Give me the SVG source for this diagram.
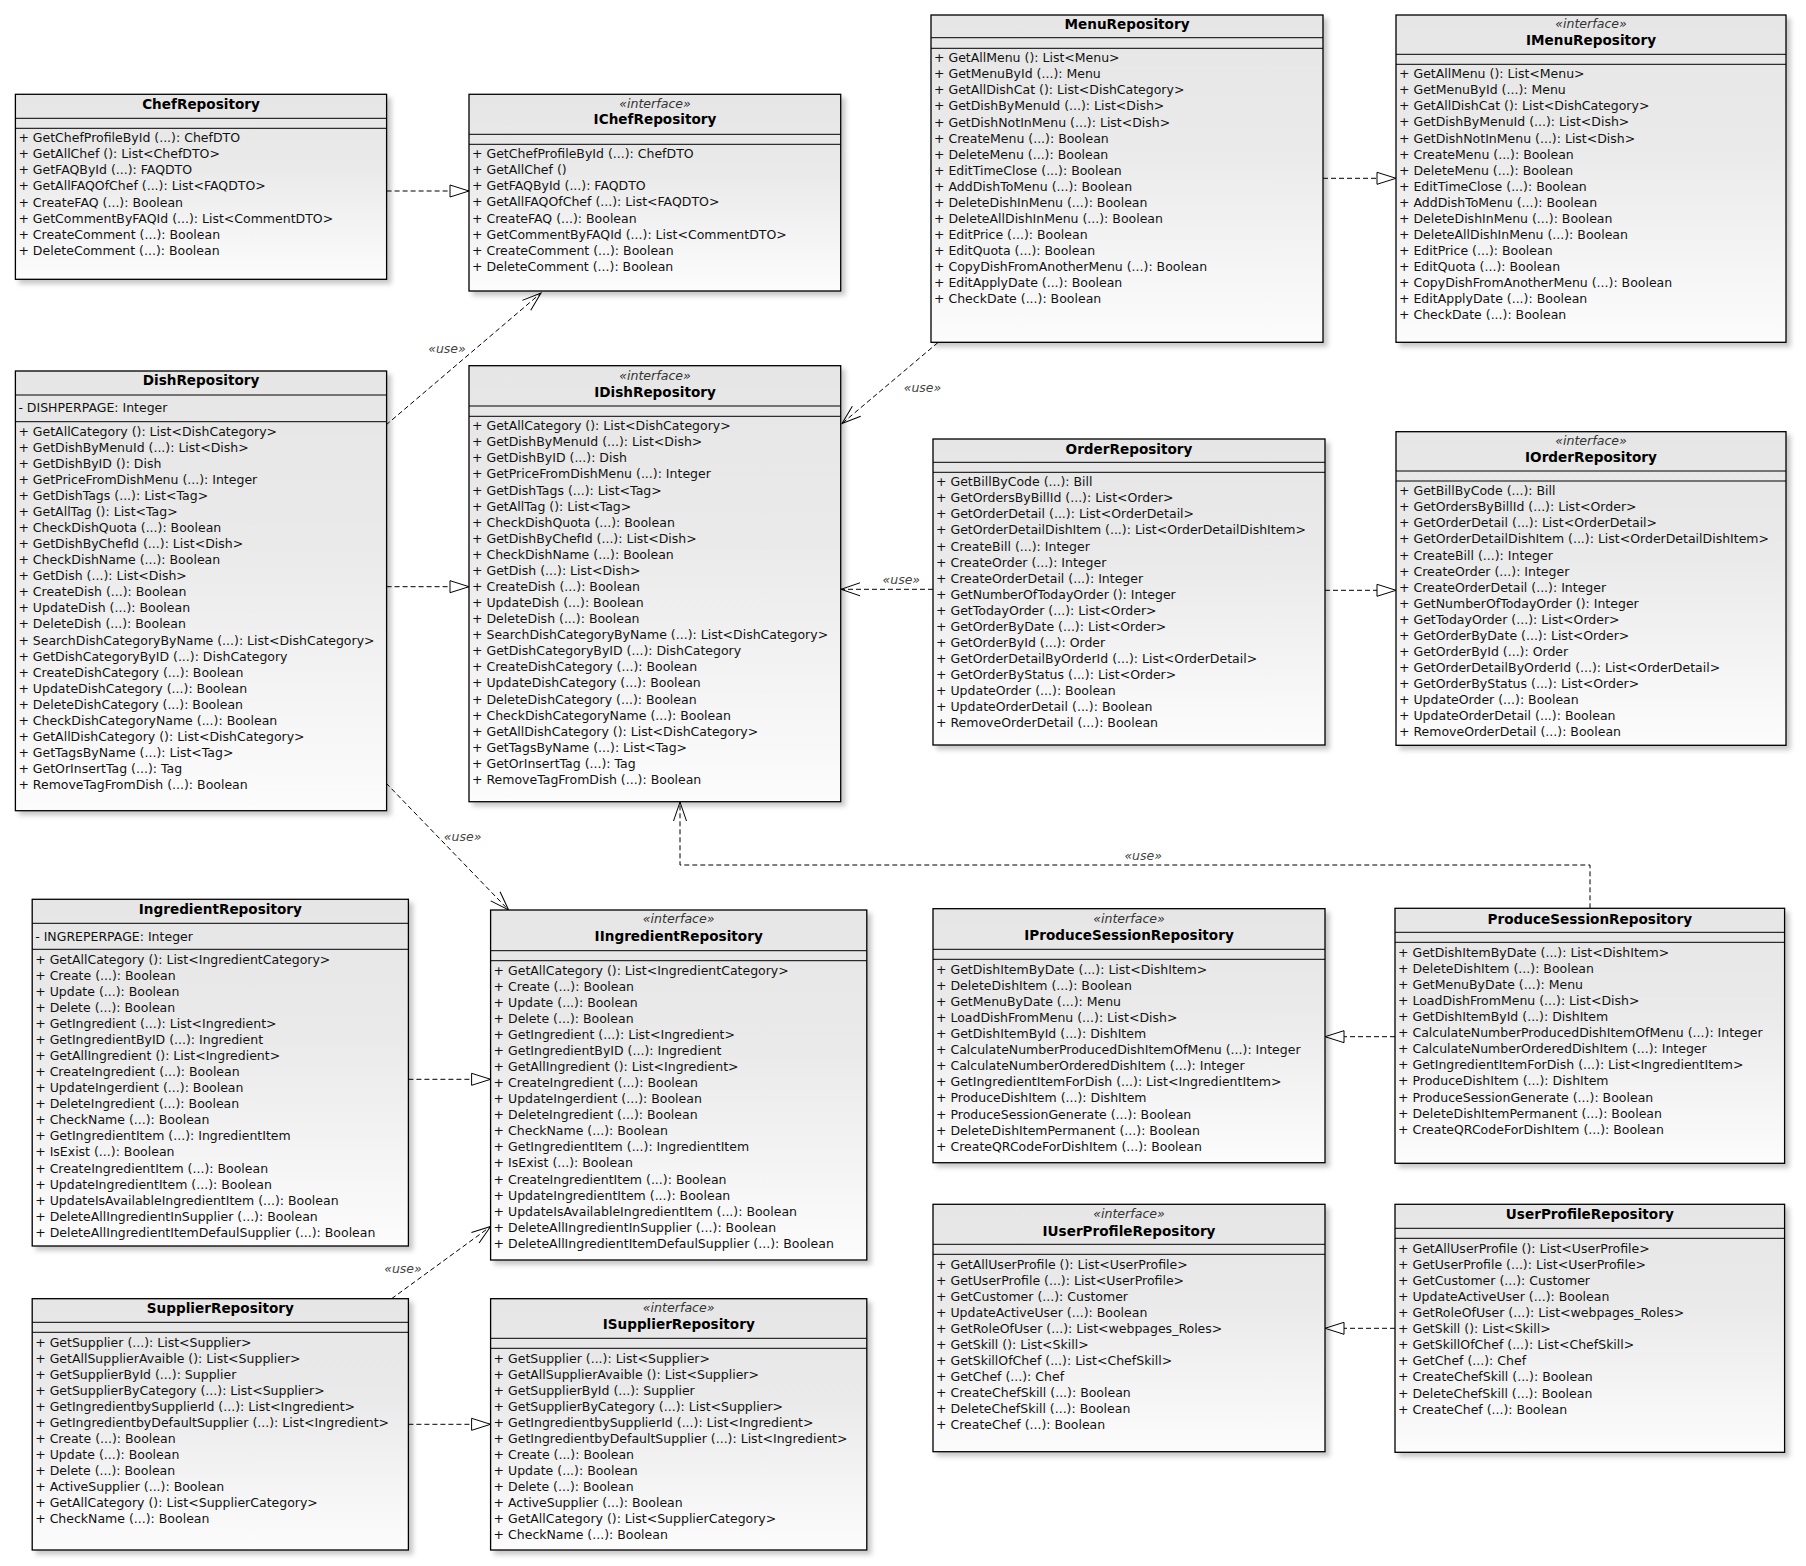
<svg xmlns="http://www.w3.org/2000/svg" width="1806" height="1566" viewBox="0 0 1806 1566">
<style>
.box{fill:url(#bodyG);stroke:#000;stroke-width:1.3;filter:url(#sh)}
.dv{stroke:#000;stroke-width:1;fill:none}
.title{font-family:"DejaVu Sans",Verdana,sans-serif;font-weight:bold;font-size:13.6px;text-anchor:middle;fill:#000}
.stereo{font-family:"DejaVu Sans",Verdana,sans-serif;font-style:italic;font-size:12.6px;text-anchor:middle;fill:#333}
.m{font-family:"DejaVu Sans",Verdana,sans-serif;font-size:12.5px;fill:#111}
.real{fill:none;stroke:#000;stroke-width:1;stroke-dasharray:5 3;marker-end:url(#tri)}
.use{fill:none;stroke:#000;stroke-width:1;stroke-dasharray:5 3;marker-end:url(#open)}
.lbl{font-family:"DejaVu Sans",Verdana,sans-serif;font-style:italic;font-size:12.5px;fill:#444;text-anchor:middle}
</style>
<defs>
<linearGradient id="bodyG" x1="0" y1="0" x2="0" y2="1">
<stop offset="0" stop-color="#e6e6e6"/>
<stop offset="0.4" stop-color="#eaeaea"/>
<stop offset="1" stop-color="#fcfcfc"/>
</linearGradient>
<filter id="sh" x="-5%" y="-5%" width="115%" height="115%">
<feDropShadow dx="4" dy="4" stdDeviation="2.5" flood-color="#000" flood-opacity="0.22"/>
</filter>
<marker id="tri" markerUnits="userSpaceOnUse" markerWidth="20" markerHeight="13" refX="19" refY="6" orient="auto" overflow="visible">
<path d="M0,0 L19,6 L0,12 Z" fill="#fff" stroke="#000" stroke-width="1"/>
</marker>
<marker id="open" markerUnits="userSpaceOnUse" markerWidth="20" markerHeight="14" refX="19" refY="6.5" orient="auto" overflow="visible">
<path d="M0,0 L19,6.5 L0,13" fill="none" stroke="#000" stroke-width="1"/>
</marker>
</defs>
<rect width="1806" height="1566" fill="#fff"/>

<g id="connectors">
<path class="real" d="M386.6,191 L469,191"/>
<path class="real" d="M386.6,586.7 L469,586.7"/>
<path class="real" d="M1323,178.3 L1396,178.3"/>
<path class="real" d="M1325,590.3 L1396,590.3"/>
<path class="real" d="M408.4,1079.3 L490.6,1079.3"/>
<path class="real" d="M408.4,1424.3 L490.6,1424.3"/>
<path class="real" d="M1395,1036.7 L1325,1036.7"/>
<path class="real" d="M1395,1328.3 L1325,1328.3"/>
<path class="use" d="M386,425 L541,293"/>
<path class="use" d="M938,342.5 L842,423.5"/>
<path class="use" d="M933,589.3 L841,589.3"/>
<path class="use" d="M386,783 L508.6,910"/>
<path class="use" d="M1590,908.3 L1590,865 L680,865 L680,802"/>
<path class="use" d="M391.6,1298.7 L490.6,1226.5"/>
<text class="lbl" x="447" y="352.8">«use»</text>
<text class="lbl" x="922.5" y="392.2">«use»</text>
<text class="lbl" x="901.3" y="583.8">«use»</text>
<text class="lbl" x="462.6" y="840.5">«use»</text>
<text class="lbl" x="1143.2" y="859.5">«use»</text>
<text class="lbl" x="403" y="1272.8">«use»</text>
</g>

<g id="ChefRepository">
<rect class="box" x="15.4" y="94.3" width="371.2" height="185"/>
<path class="dv" d="M15.4,118.3H386.6M15.4,128.3H386.6"/>
<text class="title" x="201" y="108.8">ChefRepository</text>
<text class="m" x="18.4" y="142.2"><tspan x="18.4" dy="0">+ GetChefProfileById (...): ChefDTO</tspan><tspan x="18.4" dy="16.08">+ GetAllChef (): List&lt;ChefDTO&gt;</tspan><tspan x="18.4" dy="16.08">+ GetFAQById (...): FAQDTO</tspan><tspan x="18.4" dy="16.08">+ GetAllFAQOfChef (...): List&lt;FAQDTO&gt;</tspan><tspan x="18.4" dy="16.08">+ CreateFAQ (...): Boolean</tspan><tspan x="18.4" dy="16.08">+ GetCommentByFAQId (...): List&lt;CommentDTO&gt;</tspan><tspan x="18.4" dy="16.08">+ CreateComment (...): Boolean</tspan><tspan x="18.4" dy="16.08">+ DeleteComment (...): Boolean</tspan></text>
</g>

<g id="IChefRepository">
<rect class="box" x="469" y="94.3" width="371.7" height="196.7"/>
<path class="dv" d="M469,134.3H840.7M469,144.3H840.7"/>
<text class="stereo" x="655" y="108">«interface»</text>
<text class="title" x="655" y="124.2">IChefRepository</text>
<text class="m" x="472" y="158.2"><tspan x="472" dy="0">+ GetChefProfileById (...): ChefDTO</tspan><tspan x="472" dy="16.08">+ GetAllChef ()</tspan><tspan x="472" dy="16.08">+ GetFAQById (...): FAQDTO</tspan><tspan x="472" dy="16.08">+ GetAllFAQOfChef (...): List&lt;FAQDTO&gt;</tspan><tspan x="472" dy="16.08">+ CreateFAQ (...): Boolean</tspan><tspan x="472" dy="16.08">+ GetCommentByFAQId (...): List&lt;CommentDTO&gt;</tspan><tspan x="472" dy="16.08">+ CreateComment (...): Boolean</tspan><tspan x="472" dy="16.08">+ DeleteComment (...): Boolean</tspan></text>
</g>

<g id="DishRepository">
<rect class="box" x="15.4" y="371" width="371.2" height="439.7"/>
<path class="dv" d="M15.4,395H386.6M15.4,421.7H386.6"/>
<text class="title" x="201" y="385.3">DishRepository</text>
<text class="m" x="18.4" y="412.2">- DISHPERPAGE: Integer</text>
<text class="m" x="18.4" y="435.5"><tspan x="18.4" dy="0">+ GetAllCategory (): List&lt;DishCategory&gt;</tspan><tspan x="18.4" dy="16.08">+ GetDishByMenuId (...): List&lt;Dish&gt;</tspan><tspan x="18.4" dy="16.08">+ GetDishByID (): Dish</tspan><tspan x="18.4" dy="16.08">+ GetPriceFromDishMenu (...): Integer</tspan><tspan x="18.4" dy="16.08">+ GetDishTags (...): List&lt;Tag&gt;</tspan><tspan x="18.4" dy="16.08">+ GetAllTag (): List&lt;Tag&gt;</tspan><tspan x="18.4" dy="16.08">+ CheckDishQuota (...): Boolean</tspan><tspan x="18.4" dy="16.08">+ GetDishByChefId (...): List&lt;Dish&gt;</tspan><tspan x="18.4" dy="16.08">+ CheckDishName (...): Boolean</tspan><tspan x="18.4" dy="16.08">+ GetDish (...): List&lt;Dish&gt;</tspan><tspan x="18.4" dy="16.08">+ CreateDish (...): Boolean</tspan><tspan x="18.4" dy="16.08">+ UpdateDish (...): Boolean</tspan><tspan x="18.4" dy="16.08">+ DeleteDish (...): Boolean</tspan><tspan x="18.4" dy="16.08">+ SearchDishCategoryByName (...): List&lt;DishCategory&gt;</tspan><tspan x="18.4" dy="16.08">+ GetDishCategoryByID (...): DishCategory</tspan><tspan x="18.4" dy="16.08">+ CreateDishCategory (...): Boolean</tspan><tspan x="18.4" dy="16.08">+ UpdateDishCategory (...): Boolean</tspan><tspan x="18.4" dy="16.08">+ DeleteDishCategory (...): Boolean</tspan><tspan x="18.4" dy="16.08">+ CheckDishCategoryName (...): Boolean</tspan><tspan x="18.4" dy="16.08">+ GetAllDishCategory (): List&lt;DishCategory&gt;</tspan><tspan x="18.4" dy="16.08">+ GetTagsByName (...): List&lt;Tag&gt;</tspan><tspan x="18.4" dy="16.08">+ GetOrInsertTag (...): Tag</tspan><tspan x="18.4" dy="16.08">+ RemoveTagFromDish (...): Boolean</tspan></text>
</g>

<g id="IDishRepository">
<rect class="box" x="469" y="365.7" width="371.7" height="436"/>
<path class="dv" d="M469,406H840.7M469,416.3H840.7"/>
<text class="stereo" x="655" y="380.2">«interface»</text>
<text class="title" x="655" y="396.5">IDishRepository</text>
<text class="m" x="472" y="430.2"><tspan x="472" dy="0">+ GetAllCategory (): List&lt;DishCategory&gt;</tspan><tspan x="472" dy="16.08">+ GetDishByMenuId (...): List&lt;Dish&gt;</tspan><tspan x="472" dy="16.08">+ GetDishByID (...): Dish</tspan><tspan x="472" dy="16.08">+ GetPriceFromDishMenu (...): Integer</tspan><tspan x="472" dy="16.08">+ GetDishTags (...): List&lt;Tag&gt;</tspan><tspan x="472" dy="16.08">+ GetAllTag (): List&lt;Tag&gt;</tspan><tspan x="472" dy="16.08">+ CheckDishQuota (...): Boolean</tspan><tspan x="472" dy="16.08">+ GetDishByChefId (...): List&lt;Dish&gt;</tspan><tspan x="472" dy="16.08">+ CheckDishName (...): Boolean</tspan><tspan x="472" dy="16.08">+ GetDish (...): List&lt;Dish&gt;</tspan><tspan x="472" dy="16.08">+ CreateDish (...): Boolean</tspan><tspan x="472" dy="16.08">+ UpdateDish (...): Boolean</tspan><tspan x="472" dy="16.08">+ DeleteDish (...): Boolean</tspan><tspan x="472" dy="16.08">+ SearchDishCategoryByName (...): List&lt;DishCategory&gt;</tspan><tspan x="472" dy="16.08">+ GetDishCategoryByID (...): DishCategory</tspan><tspan x="472" dy="16.08">+ CreateDishCategory (...): Boolean</tspan><tspan x="472" dy="16.08">+ UpdateDishCategory (...): Boolean</tspan><tspan x="472" dy="16.08">+ DeleteDishCategory (...): Boolean</tspan><tspan x="472" dy="16.08">+ CheckDishCategoryName (...): Boolean</tspan><tspan x="472" dy="16.08">+ GetAllDishCategory (): List&lt;DishCategory&gt;</tspan><tspan x="472" dy="16.08">+ GetTagsByName (...): List&lt;Tag&gt;</tspan><tspan x="472" dy="16.08">+ GetOrInsertTag (...): Tag</tspan><tspan x="472" dy="16.08">+ RemoveTagFromDish (...): Boolean</tspan></text>
</g>

<g id="MenuRepository">
<rect class="box" x="931" y="15" width="392" height="327.3"/>
<path class="dv" d="M931,37.7H1323M931,48.3H1323"/>
<text class="title" x="1127" y="28.8">MenuRepository</text>
<text class="m" x="934" y="62.2"><tspan x="934" dy="0">+ GetAllMenu (): List&lt;Menu&gt;</tspan><tspan x="934" dy="16.08">+ GetMenuById (...): Menu</tspan><tspan x="934" dy="16.08">+ GetAllDishCat (): List&lt;DishCategory&gt;</tspan><tspan x="934" dy="16.08">+ GetDishByMenuId (...): List&lt;Dish&gt;</tspan><tspan x="934" dy="16.08">+ GetDishNotInMenu (...): List&lt;Dish&gt;</tspan><tspan x="934" dy="16.08">+ CreateMenu (...): Boolean</tspan><tspan x="934" dy="16.08">+ DeleteMenu (...): Boolean</tspan><tspan x="934" dy="16.08">+ EditTimeClose (...): Boolean</tspan><tspan x="934" dy="16.08">+ AddDishToMenu (...): Boolean</tspan><tspan x="934" dy="16.08">+ DeleteDishInMenu (...): Boolean</tspan><tspan x="934" dy="16.08">+ DeleteAllDishInMenu (...): Boolean</tspan><tspan x="934" dy="16.08">+ EditPrice (...): Boolean</tspan><tspan x="934" dy="16.08">+ EditQuota (...): Boolean</tspan><tspan x="934" dy="16.08">+ CopyDishFromAnotherMenu (...): Boolean</tspan><tspan x="934" dy="16.08">+ EditApplyDate (...): Boolean</tspan><tspan x="934" dy="16.08">+ CheckDate (...): Boolean</tspan></text>
</g>

<g id="IMenuRepository">
<rect class="box" x="1396" y="15" width="390" height="327.3"/>
<path class="dv" d="M1396,54.3H1786M1396,64.3H1786"/>
<text class="stereo" x="1591" y="27.8">«interface»</text>
<text class="title" x="1591" y="44.8">IMenuRepository</text>
<text class="m" x="1399" y="78.2"><tspan x="1399" dy="0">+ GetAllMenu (): List&lt;Menu&gt;</tspan><tspan x="1399" dy="16.08">+ GetMenuById (...): Menu</tspan><tspan x="1399" dy="16.08">+ GetAllDishCat (): List&lt;DishCategory&gt;</tspan><tspan x="1399" dy="16.08">+ GetDishByMenuId (...): List&lt;Dish&gt;</tspan><tspan x="1399" dy="16.08">+ GetDishNotInMenu (...): List&lt;Dish&gt;</tspan><tspan x="1399" dy="16.08">+ CreateMenu (...): Boolean</tspan><tspan x="1399" dy="16.08">+ DeleteMenu (...): Boolean</tspan><tspan x="1399" dy="16.08">+ EditTimeClose (...): Boolean</tspan><tspan x="1399" dy="16.08">+ AddDishToMenu (...): Boolean</tspan><tspan x="1399" dy="16.08">+ DeleteDishInMenu (...): Boolean</tspan><tspan x="1399" dy="16.08">+ DeleteAllDishInMenu (...): Boolean</tspan><tspan x="1399" dy="16.08">+ EditPrice (...): Boolean</tspan><tspan x="1399" dy="16.08">+ EditQuota (...): Boolean</tspan><tspan x="1399" dy="16.08">+ CopyDishFromAnotherMenu (...): Boolean</tspan><tspan x="1399" dy="16.08">+ EditApplyDate (...): Boolean</tspan><tspan x="1399" dy="16.08">+ CheckDate (...): Boolean</tspan></text>
</g>

<g id="OrderRepository">
<rect class="box" x="933" y="439" width="392" height="306"/>
<path class="dv" d="M933,462.3H1325M933,472.3H1325"/>
<text class="title" x="1129" y="453.8">OrderRepository</text>
<text class="m" x="936" y="486.2"><tspan x="936" dy="0">+ GetBillByCode (...): Bill</tspan><tspan x="936" dy="16.08">+ GetOrdersByBillId (...): List&lt;Order&gt;</tspan><tspan x="936" dy="16.08">+ GetOrderDetail (...): List&lt;OrderDetail&gt;</tspan><tspan x="936" dy="16.08">+ GetOrderDetailDishItem (...): List&lt;OrderDetailDishItem&gt;</tspan><tspan x="936" dy="16.08">+ CreateBill (...): Integer</tspan><tspan x="936" dy="16.08">+ CreateOrder (...): Integer</tspan><tspan x="936" dy="16.08">+ CreateOrderDetail (...): Integer</tspan><tspan x="936" dy="16.08">+ GetNumberOfTodayOrder (): Integer</tspan><tspan x="936" dy="16.08">+ GetTodayOrder (...): List&lt;Order&gt;</tspan><tspan x="936" dy="16.08">+ GetOrderByDate (...): List&lt;Order&gt;</tspan><tspan x="936" dy="16.08">+ GetOrderById (...): Order</tspan><tspan x="936" dy="16.08">+ GetOrderDetailByOrderId (...): List&lt;OrderDetail&gt;</tspan><tspan x="936" dy="16.08">+ GetOrderByStatus (...): List&lt;Order&gt;</tspan><tspan x="936" dy="16.08">+ UpdateOrder (...): Boolean</tspan><tspan x="936" dy="16.08">+ UpdateOrderDetail (...): Boolean</tspan><tspan x="936" dy="16.08">+ RemoveOrderDetail (...): Boolean</tspan></text>
</g>

<g id="IOrderRepository">
<rect class="box" x="1396" y="431.7" width="390" height="313.6"/>
<path class="dv" d="M1396,471H1786M1396,481H1786"/>
<text class="stereo" x="1591" y="444.5">«interface»</text>
<text class="title" x="1591" y="461.5">IOrderRepository</text>
<text class="m" x="1399" y="495.2"><tspan x="1399" dy="0">+ GetBillByCode (...): Bill</tspan><tspan x="1399" dy="16.08">+ GetOrdersByBillId (...): List&lt;Order&gt;</tspan><tspan x="1399" dy="16.08">+ GetOrderDetail (...): List&lt;OrderDetail&gt;</tspan><tspan x="1399" dy="16.08">+ GetOrderDetailDishItem (...): List&lt;OrderDetailDishItem&gt;</tspan><tspan x="1399" dy="16.08">+ CreateBill (...): Integer</tspan><tspan x="1399" dy="16.08">+ CreateOrder (...): Integer</tspan><tspan x="1399" dy="16.08">+ CreateOrderDetail (...): Integer</tspan><tspan x="1399" dy="16.08">+ GetNumberOfTodayOrder (): Integer</tspan><tspan x="1399" dy="16.08">+ GetTodayOrder (...): List&lt;Order&gt;</tspan><tspan x="1399" dy="16.08">+ GetOrderByDate (...): List&lt;Order&gt;</tspan><tspan x="1399" dy="16.08">+ GetOrderById (...): Order</tspan><tspan x="1399" dy="16.08">+ GetOrderDetailByOrderId (...): List&lt;OrderDetail&gt;</tspan><tspan x="1399" dy="16.08">+ GetOrderByStatus (...): List&lt;Order&gt;</tspan><tspan x="1399" dy="16.08">+ UpdateOrder (...): Boolean</tspan><tspan x="1399" dy="16.08">+ UpdateOrderDetail (...): Boolean</tspan><tspan x="1399" dy="16.08">+ RemoveOrderDetail (...): Boolean</tspan></text>
</g>

<g id="IngredientRepository">
<rect class="box" x="32.2" y="899.3" width="376.2" height="346.7"/>
<path class="dv" d="M32.2,923.3H408.4M32.2,949.3H408.4"/>
<text class="title" x="220.3" y="913.5">IngredientRepository</text>
<text class="m" x="35.2" y="940.5">- INGREPERPAGE: Integer</text>
<text class="m" x="35.2" y="963.5"><tspan x="35.2" dy="0">+ GetAllCategory (): List&lt;IngredientCategory&gt;</tspan><tspan x="35.2" dy="16.08">+ Create (...): Boolean</tspan><tspan x="35.2" dy="16.08">+ Update (...): Boolean</tspan><tspan x="35.2" dy="16.08">+ Delete (...): Boolean</tspan><tspan x="35.2" dy="16.08">+ GetIngredient (...): List&lt;Ingredient&gt;</tspan><tspan x="35.2" dy="16.08">+ GetIngredientByID (...): Ingredient</tspan><tspan x="35.2" dy="16.08">+ GetAllIngredient (): List&lt;Ingredient&gt;</tspan><tspan x="35.2" dy="16.08">+ CreateIngredient (...): Boolean</tspan><tspan x="35.2" dy="16.08">+ UpdateIngerdient (...): Boolean</tspan><tspan x="35.2" dy="16.08">+ DeleteIngredient (...): Boolean</tspan><tspan x="35.2" dy="16.08">+ CheckName (...): Boolean</tspan><tspan x="35.2" dy="16.08">+ GetIngredientItem (...): IngredientItem</tspan><tspan x="35.2" dy="16.08">+ IsExist (...): Boolean</tspan><tspan x="35.2" dy="16.08">+ CreateIngredientItem (...): Boolean</tspan><tspan x="35.2" dy="16.08">+ UpdateIngredientItem (...): Boolean</tspan><tspan x="35.2" dy="16.08">+ UpdateIsAvailableIngredientItem (...): Boolean</tspan><tspan x="35.2" dy="16.08">+ DeleteAllIngredientInSupplier (...): Boolean</tspan><tspan x="35.2" dy="16.08">+ DeleteAllIngredientItemDefaulSupplier (...): Boolean</tspan></text>
</g>

<g id="IIngredientRepository">
<rect class="box" x="490.6" y="910" width="376.2" height="350"/>
<path class="dv" d="M490.6,950.7H866.8M490.6,960.7H866.8"/>
<text class="stereo" x="678.7" y="922.8">«interface»</text>
<text class="title" x="678.7" y="940.5">IIngredientRepository</text>
<text class="m" x="493.6" y="974.5"><tspan x="493.6" dy="0">+ GetAllCategory (): List&lt;IngredientCategory&gt;</tspan><tspan x="493.6" dy="16.08">+ Create (...): Boolean</tspan><tspan x="493.6" dy="16.08">+ Update (...): Boolean</tspan><tspan x="493.6" dy="16.08">+ Delete (...): Boolean</tspan><tspan x="493.6" dy="16.08">+ GetIngredient (...): List&lt;Ingredient&gt;</tspan><tspan x="493.6" dy="16.08">+ GetIngredientByID (...): Ingredient</tspan><tspan x="493.6" dy="16.08">+ GetAllIngredient (): List&lt;Ingredient&gt;</tspan><tspan x="493.6" dy="16.08">+ CreateIngredient (...): Boolean</tspan><tspan x="493.6" dy="16.08">+ UpdateIngerdient (...): Boolean</tspan><tspan x="493.6" dy="16.08">+ DeleteIngredient (...): Boolean</tspan><tspan x="493.6" dy="16.08">+ CheckName (...): Boolean</tspan><tspan x="493.6" dy="16.08">+ GetIngredientItem (...): IngredientItem</tspan><tspan x="493.6" dy="16.08">+ IsExist (...): Boolean</tspan><tspan x="493.6" dy="16.08">+ CreateIngredientItem (...): Boolean</tspan><tspan x="493.6" dy="16.08">+ UpdateIngredientItem (...): Boolean</tspan><tspan x="493.6" dy="16.08">+ UpdateIsAvailableIngredientItem (...): Boolean</tspan><tspan x="493.6" dy="16.08">+ DeleteAllIngredientInSupplier (...): Boolean</tspan><tspan x="493.6" dy="16.08">+ DeleteAllIngredientItemDefaulSupplier (...): Boolean</tspan></text>
</g>

<g id="IProduceSessionRepository">
<rect class="box" x="933" y="908.7" width="392" height="254"/>
<path class="dv" d="M933,949.3H1325M933,959.3H1325"/>
<text class="stereo" x="1129" y="922.8">«interface»</text>
<text class="title" x="1129" y="939.8">IProduceSessionRepository</text>
<text class="m" x="936" y="973.8"><tspan x="936" dy="0">+ GetDishItemByDate (...): List&lt;DishItem&gt;</tspan><tspan x="936" dy="16.08">+ DeleteDishItem (...): Boolean</tspan><tspan x="936" dy="16.08">+ GetMenuByDate (...): Menu</tspan><tspan x="936" dy="16.08">+ LoadDishFromMenu (...): List&lt;Dish&gt;</tspan><tspan x="936" dy="16.08">+ GetDishItemById (...): DishItem</tspan><tspan x="936" dy="16.08">+ CalculateNumberProducedDishItemOfMenu (...): Integer</tspan><tspan x="936" dy="16.08">+ CalculateNumberOrderedDishItem (...): Integer</tspan><tspan x="936" dy="16.08">+ GetIngredientItemForDish (...): List&lt;IngredientItem&gt;</tspan><tspan x="936" dy="16.08">+ ProduceDishItem (...): DishItem</tspan><tspan x="936" dy="16.08">+ ProduceSessionGenerate (...): Boolean</tspan><tspan x="936" dy="16.08">+ DeleteDishItemPermanent (...): Boolean</tspan><tspan x="936" dy="16.08">+ CreateQRCodeForDishItem (...): Boolean</tspan></text>
</g>

<g id="ProduceSessionRepository">
<rect class="box" x="1395" y="908.3" width="389.6" height="255"/>
<path class="dv" d="M1395,932.3H1784.6M1395,942.3H1784.6"/>
<text class="title" x="1589.8" y="923.6">ProduceSessionRepository</text>
<text class="m" x="1398" y="956.8"><tspan x="1398" dy="0">+ GetDishItemByDate (...): List&lt;DishItem&gt;</tspan><tspan x="1398" dy="16.08">+ DeleteDishItem (...): Boolean</tspan><tspan x="1398" dy="16.08">+ GetMenuByDate (...): Menu</tspan><tspan x="1398" dy="16.08">+ LoadDishFromMenu (...): List&lt;Dish&gt;</tspan><tspan x="1398" dy="16.08">+ GetDishItemById (...): DishItem</tspan><tspan x="1398" dy="16.08">+ CalculateNumberProducedDishItemOfMenu (...): Integer</tspan><tspan x="1398" dy="16.08">+ CalculateNumberOrderedDishItem (...): Integer</tspan><tspan x="1398" dy="16.08">+ GetIngredientItemForDish (...): List&lt;IngredientItem&gt;</tspan><tspan x="1398" dy="16.08">+ ProduceDishItem (...): DishItem</tspan><tspan x="1398" dy="16.08">+ ProduceSessionGenerate (...): Boolean</tspan><tspan x="1398" dy="16.08">+ DeleteDishItemPermanent (...): Boolean</tspan><tspan x="1398" dy="16.08">+ CreateQRCodeForDishItem (...): Boolean</tspan></text>
</g>

<g id="SupplierRepository">
<rect class="box" x="32.2" y="1298.7" width="376.2" height="251.3"/>
<path class="dv" d="M32.2,1322.3H408.4M32.2,1332.3H408.4"/>
<text class="title" x="220.3" y="1312.5">SupplierRepository</text>
<text class="m" x="35.2" y="1346.5"><tspan x="35.2" dy="0">+ GetSupplier (...): List&lt;Supplier&gt;</tspan><tspan x="35.2" dy="16.08">+ GetAllSupplierAvaible (): List&lt;Supplier&gt;</tspan><tspan x="35.2" dy="16.08">+ GetSupplierById (...): Supplier</tspan><tspan x="35.2" dy="16.08">+ GetSupplierByCategory (...): List&lt;Supplier&gt;</tspan><tspan x="35.2" dy="16.08">+ GetIngredientbySupplierId (...): List&lt;Ingredient&gt;</tspan><tspan x="35.2" dy="16.08">+ GetIngredientbyDefaultSupplier (...): List&lt;Ingredient&gt;</tspan><tspan x="35.2" dy="16.08">+ Create (...): Boolean</tspan><tspan x="35.2" dy="16.08">+ Update (...): Boolean</tspan><tspan x="35.2" dy="16.08">+ Delete (...): Boolean</tspan><tspan x="35.2" dy="16.08">+ ActiveSupplier (...): Boolean</tspan><tspan x="35.2" dy="16.08">+ GetAllCategory (): List&lt;SupplierCategory&gt;</tspan><tspan x="35.2" dy="16.08">+ CheckName (...): Boolean</tspan></text>
</g>

<g id="ISupplierRepository">
<rect class="box" x="490.6" y="1298.7" width="376.2" height="251.3"/>
<path class="dv" d="M490.6,1338.3H866.8M490.6,1348.3H866.8"/>
<text class="stereo" x="678.7" y="1311.8">«interface»</text>
<text class="title" x="678.7" y="1328.8">ISupplierRepository</text>
<text class="m" x="493.6" y="1362.5"><tspan x="493.6" dy="0">+ GetSupplier (...): List&lt;Supplier&gt;</tspan><tspan x="493.6" dy="16.08">+ GetAllSupplierAvaible (): List&lt;Supplier&gt;</tspan><tspan x="493.6" dy="16.08">+ GetSupplierById (...): Supplier</tspan><tspan x="493.6" dy="16.08">+ GetSupplierByCategory (...): List&lt;Supplier&gt;</tspan><tspan x="493.6" dy="16.08">+ GetIngredientbySupplierId (...): List&lt;Ingredient&gt;</tspan><tspan x="493.6" dy="16.08">+ GetIngredientbyDefaultSupplier (...): List&lt;Ingredient&gt;</tspan><tspan x="493.6" dy="16.08">+ Create (...): Boolean</tspan><tspan x="493.6" dy="16.08">+ Update (...): Boolean</tspan><tspan x="493.6" dy="16.08">+ Delete (...): Boolean</tspan><tspan x="493.6" dy="16.08">+ ActiveSupplier (...): Boolean</tspan><tspan x="493.6" dy="16.08">+ GetAllCategory (): List&lt;SupplierCategory&gt;</tspan><tspan x="493.6" dy="16.08">+ CheckName (...): Boolean</tspan></text>
</g>

<g id="IUserProfileRepository">
<rect class="box" x="933" y="1204.3" width="392" height="247.4"/>
<path class="dv" d="M933,1244.3H1325M933,1254.3H1325"/>
<text class="stereo" x="1129" y="1217.8">«interface»</text>
<text class="title" x="1129" y="1235.5">IUserProfileRepository</text>
<text class="m" x="936" y="1268.5"><tspan x="936" dy="0">+ GetAllUserProfile (): List&lt;UserProfile&gt;</tspan><tspan x="936" dy="16.08">+ GetUserProfile (...): List&lt;UserProfile&gt;</tspan><tspan x="936" dy="16.08">+ GetCustomer (...): Customer</tspan><tspan x="936" dy="16.08">+ UpdateActiveUser (...): Boolean</tspan><tspan x="936" dy="16.08">+ GetRoleOfUser (...): List&lt;webpages_Roles&gt;</tspan><tspan x="936" dy="16.08">+ GetSkill (): List&lt;Skill&gt;</tspan><tspan x="936" dy="16.08">+ GetSkillOfChef (...): List&lt;ChefSkill&gt;</tspan><tspan x="936" dy="16.08">+ GetChef (...): Chef</tspan><tspan x="936" dy="16.08">+ CreateChefSkill (...): Boolean</tspan><tspan x="936" dy="16.08">+ DeleteChefSkill (...): Boolean</tspan><tspan x="936" dy="16.08">+ CreateChef (...): Boolean</tspan></text>
</g>

<g id="UserProfileRepository">
<rect class="box" x="1395" y="1204.3" width="389.6" height="248"/>
<path class="dv" d="M1395,1228.3H1784.6M1395,1238.3H1784.6"/>
<text class="title" x="1589.8" y="1218.8">UserProfileRepository</text>
<text class="m" x="1398" y="1252.8"><tspan x="1398" dy="0">+ GetAllUserProfile (): List&lt;UserProfile&gt;</tspan><tspan x="1398" dy="16.08">+ GetUserProfile (...): List&lt;UserProfile&gt;</tspan><tspan x="1398" dy="16.08">+ GetCustomer (...): Customer</tspan><tspan x="1398" dy="16.08">+ UpdateActiveUser (...): Boolean</tspan><tspan x="1398" dy="16.08">+ GetRoleOfUser (...): List&lt;webpages_Roles&gt;</tspan><tspan x="1398" dy="16.08">+ GetSkill (): List&lt;Skill&gt;</tspan><tspan x="1398" dy="16.08">+ GetSkillOfChef (...): List&lt;ChefSkill&gt;</tspan><tspan x="1398" dy="16.08">+ GetChef (...): Chef</tspan><tspan x="1398" dy="16.08">+ CreateChefSkill (...): Boolean</tspan><tspan x="1398" dy="16.08">+ DeleteChefSkill (...): Boolean</tspan><tspan x="1398" dy="16.08">+ CreateChef (...): Boolean</tspan></text>
</g>
</svg>
